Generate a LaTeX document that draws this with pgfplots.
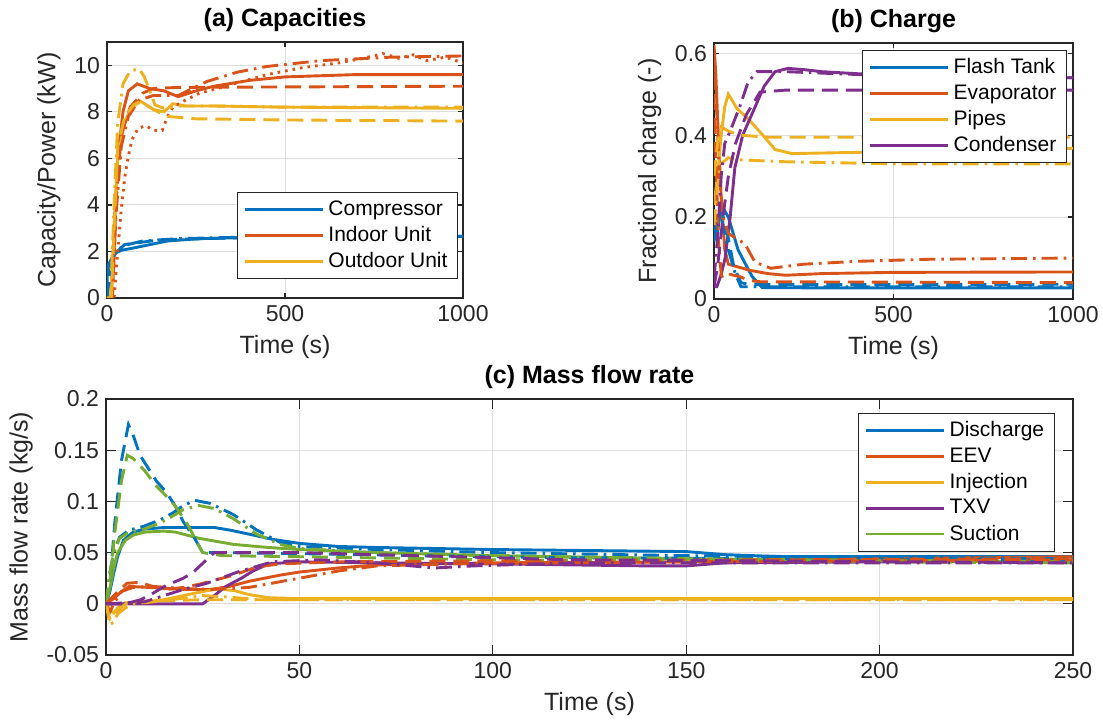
\documentclass[border=0pt]{standalone}
\usepackage{fontspec}
\setmainfont{Liberation Sans}
\usepackage{pgfplots}
\pgfplotsset{compat=1.18}

\definecolor{mblue}{RGB}{0,114,189}
\definecolor{morange}{RGB}{217,83,25}
\definecolor{myellow}{RGB}{237,177,32}
\definecolor{mpurple}{RGB}{126,47,142}
\definecolor{mgreen}{RGB}{119,172,48}
\definecolor{axc}{RGB}{38,38,38}
\definecolor{gridc}{RGB}{222,222,222}

\tikzset{
  ln/.style={line width=1.45pt},
  dsh/.style={ln, dash pattern=on 8pt off 4pt},
  dd/.style={ln, dash pattern=on 8pt off 3pt on 1.3pt off 3pt},
  dt/.style={ln, dash pattern=on 1.3pt off 2.5pt},
}

\pgfplotsset{
  mstyle/.style={
    scale only axis,
    axis line style={draw=axc, line width=0.6pt},
    tick style={draw=axc, line width=0.6pt},
    tick align=inside,
    xmajorgrids, ymajorgrids,
    grid style={draw=gridc, line width=0.5pt},
    ticklabel style={font=\fontsize{11.5}{13}\selectfont, text=axc},
    label style={font=\fontsize{12.5}{14}\selectfont, text=axc},
    title style={font=\bfseries\fontsize{12.5}{14}\selectfont, yshift=-4.5pt},
    legend style={draw=axc, fill=white, line width=0.5pt,
      font=\fontsize{10.5}{12}\selectfont},
    legend cell align=left,
    legend image code/.code={\draw[#1, line width=1.45pt, solid] (0pt,0pt) -- (39pt,0pt);},
    /pgf/number format/assume math mode=true,
    /pgf/number format/1000 sep={},
    scaled ticks=false,
    yticklabel style={/pgf/number format/fixed},
  },
}

\begin{document}
\begin{tikzpicture}
\useasboundingbox (0,0) rectangle (551.5pt,-360.5pt);

% (a) capacities
\begin{axis}[mstyle,
  at={(53.5pt,-149pt)}, anchor=south west,
  width=178pt, height=128pt,
  xmin=0, xmax=1000, ymin=0, ymax=11,
  xtick={0,500,1000}, ytick={0,2,4,6,8,10},
  major tick length=2.5pt,
  title={(a) Capacities},
  xlabel={Time (s)}, ylabel={Capacity/Power (kW)},
  legend style={at={(0.986,0.074)}, anchor=south east},
]
\addplot[mblue, ln] coordinates {(0,0)(0.5,1.0)(3,1.4)(10,1.6)(20,1.9)(40,2.05)(75,2.15)(170,2.45)(260,2.55)(400,2.6)(1000,2.65)};
\addlegendentry{Compressor}
\addplot[morange, ln] coordinates {(0,0)(12,0)(20,3)(30,6)(45,8)(60,8.9)(85,9.2)(120,9.0)(160,8.9)(200,8.65)(250,8.9)(300,9.1)(400,9.35)(500,9.5)(700,9.6)(1000,9.6)};
\addlegendentry{Indoor Unit}
\addplot[myellow, ln] coordinates {(0,0)(12,0)(20,2.5)(30,6)(50,7.6)(70,8.2)(95,8.45)(130,8.1)(160,8.0)(185,8.35)(220,8.25)(300,8.25)(500,8.2)(1000,8.15)};
\addlegendentry{Outdoor Unit}
% other cases
\addplot[mblue, dsh, forget plot] coordinates {(0,0)(15,1.8)(50,2.3)(150,2.5)(400,2.6)(1000,2.65)};
\addplot[mblue, dd, forget plot] coordinates {(0,0)(10,1.5)(30,2.1)(60,2.3)(100,2.45)(200,2.55)(400,2.62)(1000,2.7)};
\addplot[morange, dsh, forget plot] coordinates {(0,0)(15,0)(25,4)(40,7)(65,8.2)(100,8.8)(130,9.0)(200,9.05)(1000,9.1)};
\addplot[morange, dd, forget plot] coordinates {(0,0)(15,0)(25,3.5)(40,6.5)(60,7.8)(90,8.5)(130,8.7)(200,8.7)(280,9.3)(365,9.7)(450,9.95)(600,10.2)(800,10.35)(1000,10.4)};
\addplot[morange, dt, forget plot] coordinates {(0,0)(20,0)(30,2)(40,3.8)(50,5.2)(60,6.1)(70,6.8)(88,7.3)(110,7.4)(130,7.2)(155,7.2)(170,7.8)(185,8.2)(220,8.5)(260,8.8)(310,9.0)(380,9.3)(450,9.6)(550,9.9)(650,10.1)(720,10.3)(775,10.5)(820,10.3)(860,10.45)(900,10.2)(950,10.35)(1000,10.1)};
\addplot[myellow, dsh, forget plot] coordinates {(0,0)(12,0)(20,3)(30,6.5)(50,7.8)(75,8.3)(95,8.45)(130,8.1)(170,7.8)(250,7.7)(500,7.65)(1000,7.6)};
\addplot[myellow, dd, forget plot] coordinates {(0,0)(10,0)(20,4)(30,7.5)(45,9.2)(65,9.75)(90,9.85)(105,9.5)(120,8.9)(135,8.3)(160,8.15)(200,8.25)(300,8.25)(500,8.2)(1000,8.2)};
\end{axis}

% (b) charge
\begin{axis}[mstyle,
  at={(357pt,-149.5pt)}, anchor=south west,
  width=179.5pt, height=128pt,
  xmin=0, xmax=1000, ymin=0, ymax=0.625,
  xtick={0,500,1000}, ytick={0,0.2,0.4,0.6},
  major tick length=2.5pt,
  title={(b) Charge},
  xlabel={Time (s)}, ylabel={Fractional charge (-)},
  legend style={at={(0.983,0.973)}, anchor=north east},
]
\addplot[mblue, ln] coordinates {(0,0.15)(8,0.15)(17,0.21)(30,0.215)(40,0.2)(67,0.12)(106,0.055)(134,0.028)(300,0.027)(1000,0.027)};
\addlegendentry{Flash Tank}
\addplot[morange, ln] coordinates {(0,0.62)(5,0.55)(12,0.4)(20,0.25)(30,0.12)(40,0.085)(60,0.08)(100,0.07)(150,0.062)(200,0.058)(300,0.062)(500,0.065)(1000,0.066)};
\addlegendentry{Evaporator}
\addplot[myellow, ln] coordinates {(0,0.23)(10,0.3)(20,0.4)(30,0.47)(40,0.5)(64,0.465)(95,0.44)(136,0.4)(170,0.365)(217,0.355)(400,0.358)(600,0.362)(1000,0.368)};
\addlegendentry{Pipes}
\addplot[mpurple, ln] coordinates {(0,0.03)(8,0.03)(20,0.06)(31,0.1)(45,0.2)(58,0.32)(80,0.4)(110,0.46)(140,0.52)(170,0.555)(206,0.563)(250,0.56)(300,0.555)(400,0.55)(600,0.545)(1000,0.54)};
\addlegendentry{Condenser}
\addplot[mblue, dsh, forget plot] coordinates {(0,0.15)(10,0.2)(20,0.22)(35,0.17)(55,0.08)(75,0.04)(100,0.035)(1000,0.036)};
\addplot[mblue, dd, forget plot] coordinates {(0,0.14)(10,0.2)(20,0.2)(40,0.12)(60,0.06)(75,0.03)(1000,0.03)};
\addplot[morange, dsh, forget plot] coordinates {(0,0.5)(5,0.35)(12,0.15)(20,0.06)(25,0.05)(45,0.06)(70,0.055)(100,0.045)(130,0.042)(1000,0.04)};
\addplot[morange, dd, forget plot] coordinates {(0,0.55)(8,0.45)(15,0.3)(25,0.2)(40,0.16)(58,0.15)(86,0.135)(114,0.09)(158,0.075)(250,0.085)(400,0.092)(600,0.097)(1000,0.1)};
\addplot[myellow, dsh, forget plot] coordinates {(0,0.3)(10,0.38)(20,0.42)(40,0.41)(72,0.4)(150,0.395)(1000,0.395)};
\addplot[myellow, dd, forget plot] coordinates {(0,0.18)(10,0.28)(20,0.33)(40,0.345)(64,0.34)(200,0.335)(500,0.33)(1000,0.33)};
\addplot[mpurple, dsh, forget plot] coordinates {(0,0.03)(10,0.08)(25,0.2)(40,0.3)(60,0.38)(90,0.45)(128,0.505)(200,0.51)(1000,0.51)};
\addplot[mpurple, dd, forget plot] coordinates {(0,0.05)(10,0.15)(20,0.3)(30,0.38)(45,0.41)(72,0.47)(95,0.53)(120,0.555)(200,0.555)(400,0.548)(1000,0.54)};
\end{axis}

% (c) mass flow rate
\begin{axis}[mstyle,
  at={(53pt,-327.5pt)}, anchor=south west,
  width=483.5pt, height=128pt,
  xmin=0, xmax=250, ymin=-0.05, ymax=0.2,
  xtick={0,50,100,150,200,250}, ytick={-0.05,0,0.05,0.1,0.15,0.2},
  major tick length=5pt,
  title={(c) Mass flow rate},
  xlabel={Time (s)}, ylabel={Mass flow rate (kg/s)},
  legend style={at={(0.981,0.945)}, anchor=north east},
]
\addplot[mblue, ln] coordinates {(0,0)(1,0.012)(2,0.03)(3,0.046)(4.5,0.062)(7,0.07)(10,0.073)(15,0.0745)(28,0.0745)(32,0.072)(37,0.068)(43,0.063)(50,0.059)(60,0.056)(70,0.055)(100,0.053)(150,0.051)(160,0.048)(175,0.046)(250,0.046)};
\addlegendentry{Discharge}
\addplot[morange, ln] coordinates {(0,0)(2,0.005)(4,0.012)(6,0.017)(11,0.016)(20,0.014)(27,0.014)(32,0.017)(37,0.022)(45,0.028)(50,0.031)(60,0.035)(70,0.038)(100,0.04)(150,0.041)(200,0.044)(250,0.046)};
\addlegendentry{EEV}
\addplot[myellow, ln] coordinates {(0,0)(1,-0.006)(2,-0.009)(3,-0.004)(5,0.001)(10,0.002)(15,0.004)(20,0.008)(25,0.012)(29,0.0145)(33,0.013)(37,0.009)(42,0.006)(50,0.005)(250,0.005)};
\addlegendentry{Injection}
\addplot[mpurple, ln] coordinates {(0,0)(25,0)(28,0.008)(31,0.017)(35,0.025)(38,0.032)(42,0.039)(50,0.041)(70,0.04)(100,0.039)(140,0.037)(150,0.037)(160,0.04)(250,0.042)};
\addlegendentry{TXV}
\addplot[mgreen, ln] coordinates {(0,0)(1,0.015)(2,0.035)(3,0.05)(5,0.062)(7,0.067)(10,0.07)(15,0.071)(18,0.07)(24,0.064)(33,0.058)(42,0.055)(50,0.053)(70,0.05)(100,0.047)(150,0.044)(200,0.042)(250,0.041)};
\addlegendentry{Suction}
\addplot[mblue, dsh, forget plot] coordinates {(0,0)(1,0.02)(2.3,0.08)(4,0.14)(5.8,0.175)(7,0.165)(8.8,0.145)(13,0.12)(15.6,0.109)(18,0.095)(20,0.08)(22.6,0.066)(25,0.05)(30,0.05)(50,0.049)(80,0.047)(120,0.045)(250,0.043)};
\addplot[mblue, dd, forget plot] coordinates {(0,0)(1,0.03)(2,0.05)(3.5,0.065)(6,0.072)(9.6,0.0755)(14,0.082)(17.4,0.089)(20,0.096)(23,0.101)(27,0.098)(33,0.087)(39,0.072)(45,0.06)(50,0.056)(70,0.053)(100,0.05)(150,0.047)(250,0.044)};
\addplot[mgreen, dsh, forget plot] coordinates {(0,0)(1,0.02)(2.3,0.07)(4,0.12)(5.5,0.145)(7,0.142)(10,0.13)(13,0.115)(15.6,0.105)(18,0.095)(21,0.078)(23,0.064)(25,0.05)(30,0.047)(50,0.046)(100,0.043)(250,0.04)};
\addplot[mgreen, dd, forget plot] coordinates {(0,0)(1,0.03)(2,0.05)(3.5,0.064)(6,0.07)(10,0.073)(14,0.079)(17.4,0.086)(20,0.092)(24,0.096)(28,0.093)(33,0.083)(39,0.068)(45,0.058)(50,0.054)(70,0.05)(100,0.047)(150,0.044)(250,0.041)};
\addplot[morange, dsh, forget plot] coordinates {(0,0)(2,0.008)(5.4,0.02)(8.8,0.021)(12,0.017)(15.6,0.014)(20,0.016)(24,0.019)(33,0.028)(39,0.036)(45,0.039)(60,0.041)(100,0.042)(250,0.044)};
\addplot[morange, dd, forget plot] coordinates {(0,0)(1,-0.008)(2,0.0)(4,0.012)(7,0.016)(12,0.017)(20,0.015)(27,0.014)(37,0.016)(50,0.025)(60,0.032)(70,0.037)(90,0.039)(150,0.041)(250,0.043)};
\addplot[myellow, dsh, forget plot] coordinates {(0,0)(1,-0.015)(2,-0.012)(4,-0.003)(6,0.002)(15,0.003)(25,0.004)(250,0.004)};
\addplot[myellow, dd, forget plot] coordinates {(0,0)(1,-0.02)(2,-0.018)(3,-0.01)(5,-0.004)(7,0.0)(15,0.003)(25,0.008)(30,0.007)(40,0.004)(250,0.004)};
\addplot[mpurple, dsh, forget plot] coordinates {(0,0)(5,0)(9,0.004)(12,0.01)(15.6,0.018)(20,0.025)(22.6,0.031)(26,0.043)(28,0.05)(50,0.05)(80,0.047)(120,0.043)(250,0.04)};
\addplot[mpurple, dd, forget plot] coordinates {(0,0)(10,0.002)(15,0.008)(20,0.014)(26,0.02)(34,0.031)(43,0.041)(55,0.043)(70,0.04)(85,0.035)(95,0.037)(120,0.04)(250,0.04)};
\end{axis}
\end{tikzpicture}
\end{document}
